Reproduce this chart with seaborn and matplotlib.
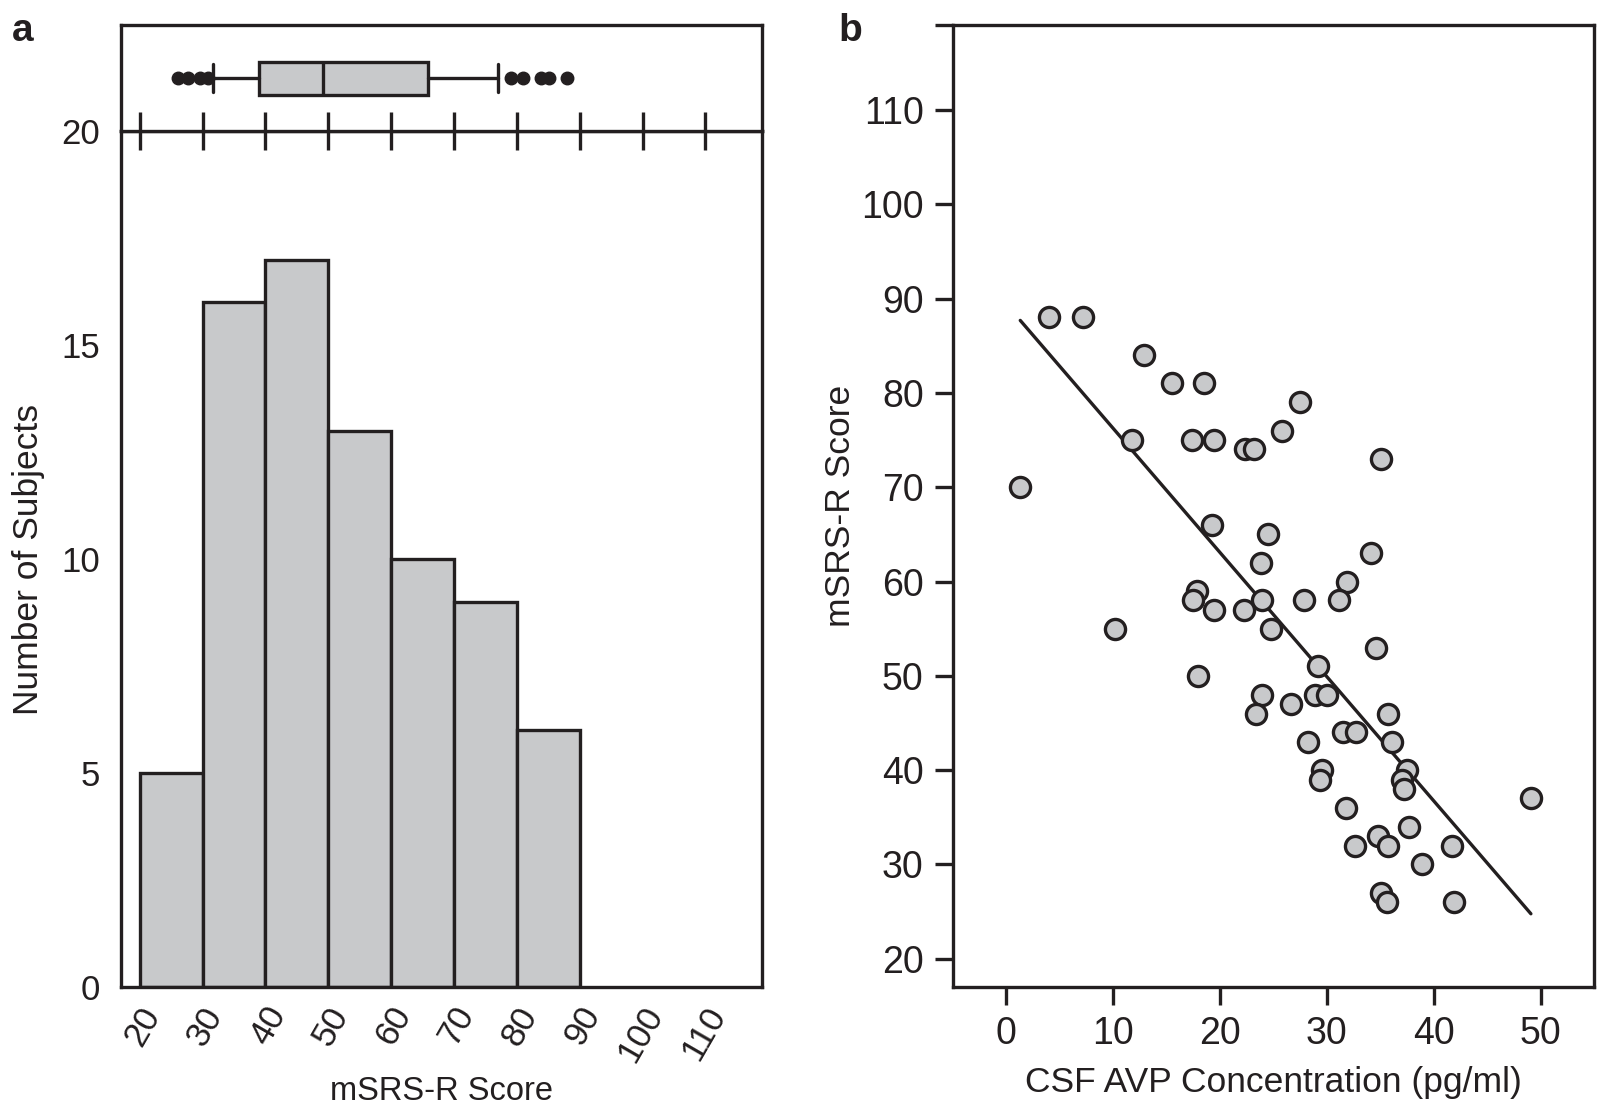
import numpy as np
import pandas as pd
import matplotlib
matplotlib.use("Agg")
import matplotlib.pyplot as plt
import matplotlib.transforms as mtransforms
import seaborn as sns

# panel a: histogram of mSRS-R scores (binned counts)
bin_edges = [20, 30, 40, 50, 60, 70, 80, 90]
bin_counts = [5, 16, 17, 13, 10, 9, 6]

# panel a: boxplot summary
box_whislo = 31.6
box_q1 = 38.9
box_med = 49.1
box_q3 = 65.8
box_whishi = 77.0
box_fliers = [26.0, 27.6, 29.5, 30.8, 79.1, 80.9, 83.9, 85.1, 88.0]

# panel b: CSF AVP concentration vs mSRS-R score
avp = [1.3, 3.95, 7.2, 12.9, 15.5, 18.5, 27.5, 25.8, 11.75, 17.4,
       19.4, 22.3, 23.2, 35.05, 19.25, 24.5, 34.1, 23.8, 31.9, 17.8,
       17.5, 23.9, 27.9, 31.1, 19.4, 22.2, 10.2, 24.8, 34.6, 29.2,
       17.9, 28.9, 30.0, 23.9, 26.6, 23.4, 35.7, 28.25, 36.1, 31.5,
       32.7, 29.5, 29.4, 37.5, 37.0, 37.2, 49.1, 31.8, 37.7, 34.8,
       35.7, 32.6, 41.7, 38.9, 35.1, 35.6, 41.9]
score = [70, 88, 88, 84, 81, 81, 79, 76, 75, 75,
         75, 74, 74, 73, 66, 65, 63, 62, 60, 59,
         58, 58, 58, 58, 57, 57, 55, 55, 53, 51,
         50, 48, 48, 48, 47, 46, 46, 43, 43, 44,
         44, 40, 39, 40, 39, 38, 37, 36, 34, 33,
         32, 32, 32, 30, 27, 26, 26]

score_ticks = [20, 30, 40, 50, 60, 70, 80, 90, 100, 110]
count_ticks = [0, 5, 10, 15, 20]
avp_ticks = [0, 10, 20, 30, 40, 50]

ink = "#231f20"
fill = "#c8c9cb"
lw = 2.4

sns.set_style("white")
plt.rcParams["font.family"] = ["Liberation Sans", "DejaVu Sans"]
plt.rcParams["text.color"] = ink
plt.rcParams["axes.labelcolor"] = ink
plt.rcParams["xtick.color"] = ink
plt.rcParams["ytick.color"] = ink

fig = plt.figure(figsize=(16, 11.12), dpi=100)
ax_box = fig.add_axes([0.0756, 0.882, 0.4006, 0.0955])
ax_hist = fig.add_axes([0.0756, 0.1124, 0.4006, 0.7696])
ax_sc = fig.add_axes([0.5956, 0.1124, 0.4006, 0.865])
ax_box.set_zorder(3)

for ax in (ax_box, ax_hist, ax_sc):
    for sp in ax.spines.values():
        sp.set_linewidth(lw)
        sp.set_color(ink)
        sp.set_visible(True)

# ---- histogram
centers = [(a + b) / 2 for a, b in zip(bin_edges[:-1], bin_edges[1:])]
hist_df = pd.DataFrame({"score": centers, "n": bin_counts})
sns.histplot(data=hist_df, x="score", weights="n", bins=bin_edges, ax=ax_hist,
             color=fill, edgecolor=ink, linewidth=lw, alpha=1)
ax_hist.set_xlim(17, 119)
ax_hist.set_ylim(0, 20)
ax_hist.set_yticks(count_ticks)
ax_hist.set_xticks([17] + score_ticks + [119])
ax_hist.set_xticklabels([""] + [str(t) for t in score_ticks] + [""],
                        rotation=60, ha="right", va="center",
                        rotation_mode="anchor")
ax_hist.tick_params(axis="both", which="major", direction="out", length=14,
                    width=lw, labelsize=25)
ax_hist.tick_params(axis="y", pad=1)
ax_hist.tick_params(axis="x", pad=2)
shift = mtransforms.ScaledTranslation(9 / 72, 0, fig.dpi_scale_trans)
for lab in ax_hist.get_xticklabels():
    lab.set_transform(lab.get_transform() + shift)
ax_hist.set_xlabel("mSRS-R Score", fontsize=23.5, labelpad=6)
ax_hist.set_ylabel("Number of Subjects", fontsize=25.5, labelpad=12)

# ---- boxplot strip on top
stats = [dict(whislo=box_whislo, q1=box_q1, med=box_med, q3=box_q3,
              whishi=box_whishi, fliers=box_fliers)]
ax_box.bxp(stats, positions=[0], widths=0.31, orientation="horizontal",
           patch_artist=True, capwidths=0.27,
           boxprops=dict(facecolor=fill, edgecolor=ink, linewidth=lw),
           medianprops=dict(color=ink, linewidth=lw),
           whiskerprops=dict(color=ink, linewidth=lw),
           capprops=dict(color=ink, linewidth=lw),
           flierprops=dict(marker="o", markerfacecolor=ink, markeredgecolor=ink,
                           markersize=9))
ax_box.set_xlim(17, 119)
ax_box.set_ylim(-0.5, 0.5)
ax_box.set_yticks([])
ax_box.set_xticks(score_ticks)
ax_box.set_xticklabels([])
ax_box.tick_params(axis="x", direction="inout", length=28, width=lw, bottom=True)

# ---- scatter with regression line
sc_df = pd.DataFrame({"avp": avp, "score": score})
sns.regplot(data=sc_df, x="avp", y="score", ax=ax_sc, scatter=False, ci=None,
            line_kws=dict(color=ink, linewidth=lw))
sns.scatterplot(data=sc_df, x="avp", y="score", ax=ax_sc, s=210,
                color=fill, edgecolor=ink, linewidth=2.4, zorder=3)
ax_sc.set_xlim(-5, 55)
ax_sc.set_ylim(17, 119)
ax_sc.set_xticks(avp_ticks)
ax_sc.set_yticks(score_ticks + [119])
ax_sc.set_yticklabels([str(t) for t in score_ticks] + [""])
ax_sc.tick_params(axis="both", direction="out", length=13, width=lw,
                  labelsize=27, pad=8, left=True, bottom=True)
ax_sc.set_xlabel("CSF AVP Concentration (pg/ml)", fontsize=25.5, labelpad=10)
ax_sc.set_ylabel("mSRS-R Score", fontsize=25.5, labelpad=3)

fig.text(0.0075, 0.972, "a", fontsize=28, fontweight="bold", va="center")
fig.text(0.524, 0.972, "b", fontsize=28, fontweight="bold", va="center")

fig.savefig("out.png", dpi=100)
